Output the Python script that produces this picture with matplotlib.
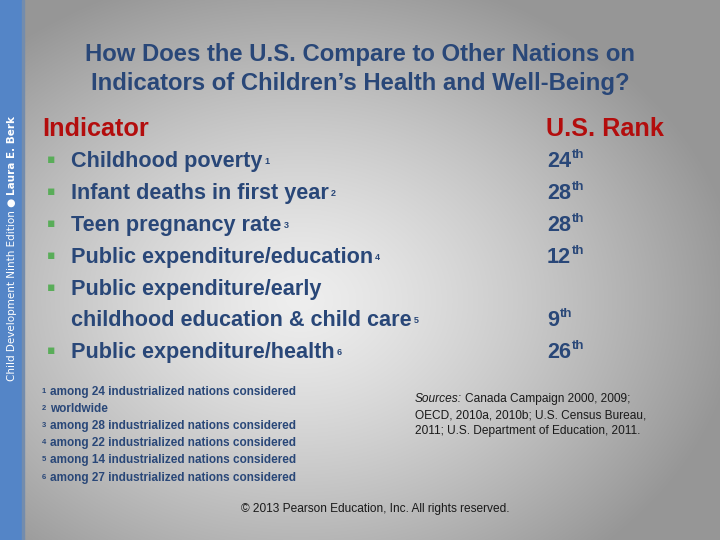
import numpy as np
import matplotlib
matplotlib.use("Agg")
import matplotlib.pyplot as plt
from matplotlib.patches import Rectangle

# ---- data ----
title_lines = ["How Does the U.S. Compare to Other Nations on",
               "Indicators of Children\u2019s Health and Well-Being?"]
header_left = "Indicator"
header_right = "U.S. Rank"
indicators = [["Childhood poverty"],
              ["Infant deaths in first year"],
              ["Teen pregnancy rate"],
              ["Public expenditure/education"],
              ["Public expenditure/early", "childhood education & child care"],
              ["Public expenditure/health"]]
note_marks = ["1", "2", "3", "4", "5", "6"]
ranks = [24, 28, 28, 12, 9, 26]
footnotes = ["among 24 industrialized nations considered",
             "worldwide",
             "among 28 industrialized nations considered",
             "among 22 industrialized nations considered",
             "among 14 industrialized nations considered",
             "among 27 industrialized nations considered"]
sources_lines = ["Canada Campaign 2000, 2009;",
                 "OECD, 2010a, 2010b; U.S. Census Bureau,",
                 "2011; U.S. Department of Education, 2011."]
copyright_text = "\u00a9 2013 Pearson Education, Inc. All rights reserved."
side_regular = "Child Development Ninth Edition \u25cf "
side_bold = "Laura E. Berk"

W, H = 720, 540
fig = plt.figure(figsize=(7.2, 5.4), dpi=100)

# background radial gradient
bg = fig.add_axes([0, 0, 1, 1])
bg.set_axis_off()
yy, xx = np.mgrid[0:H, 0:W]
d = np.sqrt(((xx - 300) / 430.0) ** 2 + ((yy - 300) / 330.0) ** 2)
v = np.clip(238 - 85 * d ** 1.3, 150, 240) / 255.0
img = np.dstack([v, v, v])
bg.imshow(img, extent=[0, W, H, 0], aspect='auto', interpolation='bilinear')
bg.set_xlim(0, W)
bg.set_ylim(H, 0)
bg.add_patch(Rectangle((0, 0), 22, H, color=(0.33, 0.52, 0.78), zorder=2))
bg.add_patch(Rectangle((22, 0), 2, H, color=(0.45, 0.55, 0.68), zorder=2))

FONT = "Liberation Sans"
BLUE = (0.16, 0.28, 0.47)
RED = (0.70, 0.05, 0.05)
GREEN = (0.35, 0.68, 0.35)

renderer = fig.canvas.get_renderer()


def put(x, y, s, **kw):
    kw.setdefault("family", FONT)
    t = fig.text(x / W, 1 - y / H, s, **kw)
    return t


def right_edge(t):
    bb = t.get_window_extent(renderer=renderer)
    return bb.x1


# title
for i, line in enumerate(title_lines):
    put(360, [61, 90][i], line, ha='center', va='baseline', fontsize=17.2,
        fontweight='bold', color=BLUE)

# headers
put(42, 136, header_left, ha='left', va='baseline', fontsize=18.2,
    fontweight='bold', color=RED)
put(546, 136, header_right, ha='left', va='baseline', fontsize=18.2,
    fontweight='bold', color=RED)

# bullets
baselines = [167, 199, 231, 263, 295, 326, 358]
li = 0
for k, lines in enumerate(indicators):
    put(51, baselines[li] - 4, "\u25aa", family="DejaVu Sans", ha='center',
        va='baseline', fontsize=9, color=GREEN)
    for j, line in enumerate(lines):
        t = put(71, baselines[li], line, ha='left', va='baseline', fontsize=15.6,
                fontweight='bold', color=BLUE)
        if j == len(lines) - 1:
            x1 = right_edge(t)
            put(x1 + 2, baselines[li] - 3, note_marks[k], ha='left',
                va='baseline', fontsize=6.5, fontweight='bold', color=BLUE)
            r = put(547, baselines[li], str(ranks[k]), ha='left',
                    va='baseline', fontsize=15.6, fontweight='bold', color=BLUE)
            rx = right_edge(r)
            put(rx + 1, baselines[li] - 9, "th", ha='left', va='baseline',
                fontsize=9.5, fontweight='bold', color=BLUE)
        li += 1

# footnotes
fn_base = [395, 412, 429, 446, 463, 481]
for k, s in enumerate(footnotes):
    put(42, fn_base[k] - 2, note_marks[k], ha='left', va='baseline',
        fontsize=5.5, fontweight='bold', color=BLUE)
    put(50, fn_base[k], s, ha='left', va='baseline', fontsize=8.5,
        fontweight='bold', color=BLUE)

# sources
src_base = [402, 419, 434]
t = put(415, src_base[0], "Sources:", ha='left', va='baseline', fontsize=8.6,
        style='italic', color=(0.1, 0.1, 0.1))
put(right_edge(t) + 3, src_base[0], sources_lines[0], ha='left',
    va='baseline', fontsize=8.6, color=(0.1, 0.1, 0.1))
for k in (1, 2):
    put(415, src_base[k], sources_lines[k], ha='left', va='baseline',
        fontsize=8.6, color=(0.1, 0.1, 0.1))

# copyright
put(375, 512, copyright_text, ha='center', va='baseline', fontsize=8.6,
    color=(0.1, 0.1, 0.1))

# side vertical text
s1 = fig.text(15 / W, 1 - 381 / H, side_regular, family="DejaVu Sans",
              rotation=90, rotation_mode='anchor', ha='left', va='baseline',
              fontsize=7.5, color='white')
bb = s1.get_window_extent(renderer=renderer)
fig.text(15 / W, bb.y1 / H, side_bold, family="DejaVu Sans", rotation=90,
         rotation_mode='anchor', ha='left', va='baseline', fontsize=7.5,
         fontweight='bold', color='white')

fig.savefig("out.png", dpi=100)
